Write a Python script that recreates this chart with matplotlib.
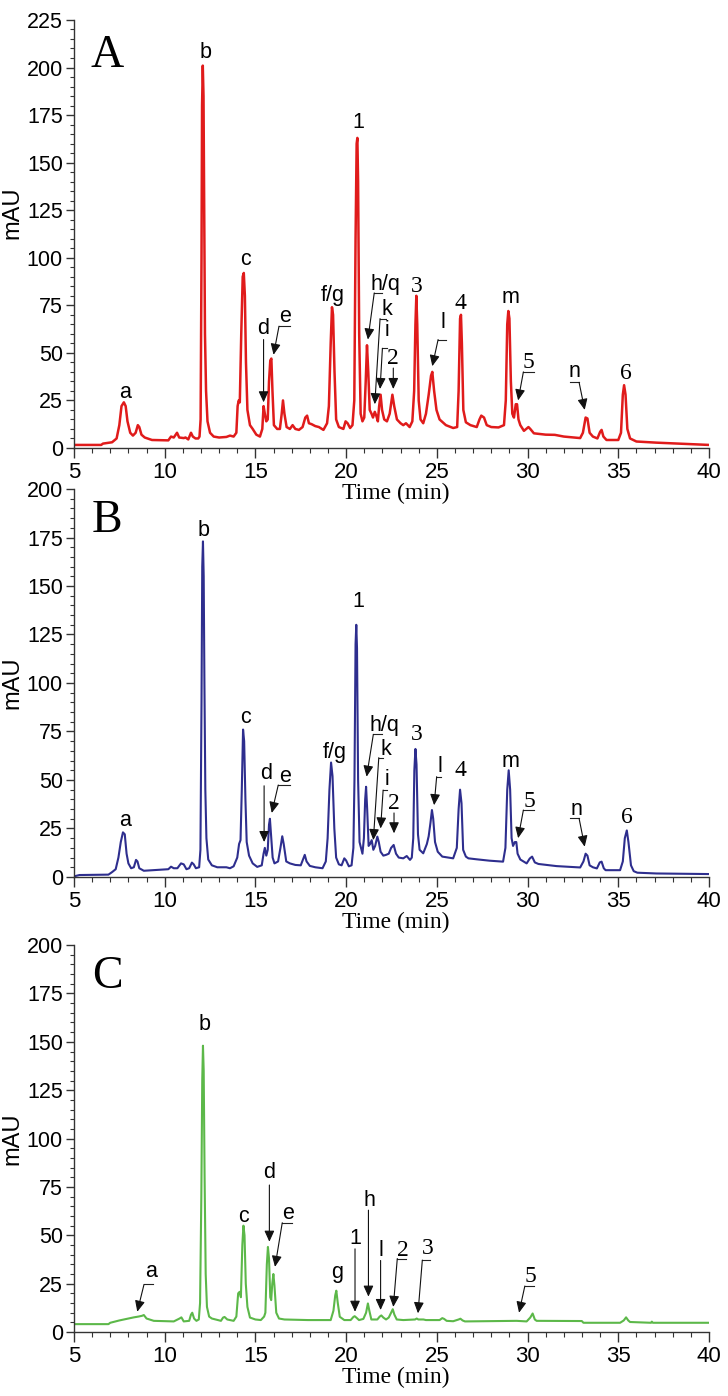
import numpy as np
import matplotlib
matplotlib.use("Agg")
import matplotlib.pyplot as plt
from matplotlib.ticker import MultipleLocator

# ---------------------------------------------
# HPLC chromatograms (A, B, C)
# each trace is a list of (time in min, absorbance in mAU)
# ---------------------------------------------
trace_a = [
    (5.0, 1.6), (6.5, 1.6), (6.6, 2.3), (7.1, 3.0), (7.35, 5), (7.5, 12), (7.62, 22),
    (7.75, 24), (7.85, 22), (7.95, 14), (8.1, 8), (8.25, 6.5), (8.4, 8), (8.52, 12),
    (8.6, 11), (8.72, 7), (8.9, 5.5), (9.3, 4.2), (10.2, 4.0), (10.35, 6.0), (10.5, 5.5),
    (10.68, 8), (10.8, 5.5), (11.05, 5.2), (11.15, 5.5), (11.3, 4.5), (11.45, 8),
    (11.55, 6), (11.7, 5), (11.85, 5), (11.92, 6), (11.98, 15), (12.03, 100), (12.06, 180),
    (12.1, 201), (12.14, 185), (12.18, 120), (12.22, 60), (12.28, 30), (12.36, 14),
    (12.5, 8), (12.7, 6), (13.0, 5.5), (13.4, 5.8), (13.6, 6.5), (13.8, 6), (13.95, 8),
    (14.02, 22), (14.08, 25), (14.14, 24), (14.22, 60), (14.3, 90), (14.36, 92),
    (14.42, 80), (14.48, 45), (14.56, 20), (14.7, 12), (14.85, 10), (15.05, 7),
    (15.25, 6), (15.38, 10), (15.45, 22), (15.52, 18), (15.6, 14), (15.68, 15),
    (15.75, 35), (15.82, 46), (15.88, 47), (15.94, 30), (16.02, 12), (16.2, 10),
    (16.35, 10), (16.45, 18), (16.52, 25), (16.6, 18), (16.72, 11), (16.9, 10),
    (17.05, 12), (17.2, 10), (17.4, 9.5), (17.6, 11), (17.75, 16), (17.85, 17),
    (17.95, 13), (18.1, 12.5), (18.3, 11.5), (18.5, 11), (18.75, 9.5), (18.95, 13),
    (19.05, 22), (19.15, 55), (19.22, 74), (19.28, 70), (19.36, 40), (19.45, 15),
    (19.6, 11), (19.85, 10), (19.97, 14), (20.08, 13), (20.22, 10.5), (20.35, 12),
    (20.45, 25), (20.52, 110), (20.58, 160), (20.62, 163), (20.66, 140), (20.72, 60),
    (20.8, 18), (20.9, 14), (21.0, 16), (21.08, 35), (21.15, 54), (21.22, 40),
    (21.3, 20), (21.4, 18), (21.48, 16), (21.58, 19), (21.66, 17), (21.75, 14),
    (21.82, 22), (21.9, 28), (21.98, 20), (22.1, 15), (22.25, 14), (22.4, 18),
    (22.55, 28), (22.65, 22), (22.8, 15), (23.0, 13), (23.15, 12), (23.3, 13),
    (23.5, 11), (23.65, 14), (23.75, 30), (23.82, 65), (23.87, 80), (23.92, 65),
    (24.0, 25), (24.1, 15), (24.25, 13), (24.4, 18), (24.55, 28), (24.68, 38),
    (24.75, 40), (24.85, 30), (24.98, 20), (25.15, 15), (25.5, 12), (25.9, 10.5),
    (26.12, 11), (26.2, 30), (26.28, 68), (26.33, 70), (26.38, 55), (26.46, 20),
    (26.6, 13.5), (26.85, 12), (27.2, 11), (27.35, 15), (27.45, 17), (27.6, 16),
    (27.75, 12), (28.0, 11), (28.4, 10.8), (28.7, 12), (28.8, 25), (28.88, 65),
    (28.94, 72), (29.0, 68), (29.08, 35), (29.16, 18), (29.25, 16), (29.35, 23),
    (29.42, 23), (29.5, 15), (29.6, 12), (29.8, 9), (30.05, 11), (30.15, 10),
    (30.35, 7.7), (31.0, 7), (31.5, 6.9), (32.0, 6), (32.9, 5.2), (33.05, 8),
    (33.2, 16), (33.3, 15.5), (33.42, 8), (33.6, 6), (33.85, 5), (34.0, 8.5),
    (34.08, 9.5), (34.18, 6), (34.35, 4.2), (35.0, 4.2), (35.15, 8), (35.25, 28),
    (35.32, 33), (35.4, 28), (35.5, 10), (35.65, 5), (36.0, 3.4), (37.1, 2.8),
    (38.6, 2.2), (40.0, 1.6),
]

trace_b = [
    (5.0, 0.3), (5.3, 1.0), (6.9, 1.2), (7.1, 2.5), (7.3, 4), (7.45, 10), (7.58, 18),
    (7.7, 23), (7.8, 22), (7.9, 12), (8.0, 7), (8.15, 4.5), (8.3, 5), (8.42, 8.8),
    (8.5, 8), (8.6, 4.5), (8.85, 3.2), (10.2, 4), (10.35, 5.3), (10.5, 4.5), (10.7, 4.5),
    (10.9, 7), (11.05, 6.5), (11.2, 4), (11.35, 4.5), (11.5, 7.4), (11.6, 6.5),
    (11.72, 4.5), (11.9, 5), (11.97, 14), (12.03, 90), (12.07, 160), (12.11, 173),
    (12.15, 155), (12.19, 100), (12.24, 45), (12.3, 20), (12.4, 9), (12.6, 6),
    (12.9, 5), (13.4, 5), (13.6, 4.5), (13.8, 5.5), (14.0, 10), (14.1, 17), (14.18, 19),
    (14.25, 45), (14.32, 76), (14.38, 70), (14.45, 40), (14.52, 18), (14.65, 11),
    (14.85, 7), (15.1, 5.2), (15.35, 6), (15.45, 12), (15.52, 15), (15.6, 11),
    (15.68, 14), (15.75, 27), (15.8, 30), (15.86, 22), (15.95, 10), (16.05, 7),
    (16.25, 8), (16.38, 15), (16.48, 21), (16.56, 17), (16.7, 8), (16.9, 7), (17.2, 6.2),
    (17.5, 6), (17.62, 9), (17.72, 11.4), (17.82, 8), (18.0, 5.7), (18.3, 5), (18.7, 4.5),
    (18.88, 8), (18.98, 20), (19.08, 45), (19.17, 59), (19.25, 52), (19.35, 25),
    (19.45, 10), (19.6, 6.5), (19.75, 6), (19.9, 9.6), (20.0, 8.5), (20.15, 5.5),
    (20.3, 6), (20.4, 15), (20.46, 50), (20.52, 120), (20.56, 130), (20.6, 118),
    (20.66, 50), (20.74, 18), (20.82, 15), (20.9, 12), (20.98, 20), (21.05, 40),
    (21.1, 46.5), (21.16, 35), (21.24, 16), (21.32, 17), (21.41, 19), (21.5, 14),
    (21.6, 16), (21.72, 20.8), (21.8, 18), (21.9, 13), (22.05, 11), (22.2, 11.4),
    (22.35, 12), (22.48, 15), (22.62, 16.5), (22.75, 12), (22.9, 10), (23.15, 9.6),
    (23.34, 10.8), (23.52, 8.8), (23.62, 10), (23.7, 20), (23.76, 55), (23.82, 66),
    (23.88, 58), (23.96, 22), (24.05, 14), (24.25, 12.2), (24.45, 17), (24.55, 21),
    (24.65, 28), (24.73, 34.5), (24.8, 30), (24.9, 18), (25.05, 13), (25.3, 10.5),
    (25.9, 9.6), (26.1, 15), (26.2, 35), (26.28, 45), (26.36, 38), (26.45, 14),
    (26.6, 10.5), (26.74, 9.6), (27.2, 9.1), (27.9, 8.4), (28.65, 7.9), (28.78, 15),
    (28.88, 45), (28.96, 55), (29.04, 45), (29.12, 20), (29.2, 16), (29.3, 18),
    (29.38, 18), (29.45, 12), (29.6, 9), (29.95, 7), (30.12, 9.5), (30.25, 10.5),
    (30.4, 7.5), (30.6, 6.7), (31.6, 5.6), (32.9, 4.9), (33.08, 8), (33.2, 12),
    (33.3, 11), (33.42, 6), (33.6, 5), (33.82, 4.4), (33.98, 7.5), (34.08, 7.9),
    (34.2, 4.5), (34.3, 3.5), (35.1, 3.5), (35.25, 8), (35.36, 20), (35.47, 24),
    (35.56, 18), (35.7, 6), (35.85, 3), (36.05, 2.2), (37.1, 1.8), (40.0, 1.5),
]

trace_c = [
    (5.0, 4.1), (6.9, 4.1), (7.0, 4.8), (7.5, 6), (8.0, 7), (8.3, 7.6), (8.55, 8),
    (8.75, 8.4), (8.85, 8.8), (9.0, 7), (9.4, 5.8), (10.5, 5.5), (10.82, 7), (10.92, 7.6),
    (11.05, 5.5), (11.35, 5.8), (11.45, 9), (11.52, 10), (11.62, 7), (11.75, 5.8),
    (11.88, 6.5), (11.95, 15), (12.02, 70), (12.07, 130), (12.11, 148), (12.15, 135),
    (12.2, 80), (12.26, 30), (12.33, 13), (12.45, 8), (12.6, 7), (13.1, 5.8), (13.22, 7.5),
    (13.3, 7.8), (13.45, 6.5), (13.8, 5.8), (13.95, 8), (14.05, 20), (14.13, 20.8),
    (14.2, 18), (14.28, 45), (14.34, 55), (14.4, 50), (14.47, 25), (14.56, 13),
    (14.7, 7.5), (15.0, 6.5), (15.3, 6.2), (15.48, 8), (15.55, 10), (15.63, 35),
    (15.69, 44), (15.75, 38), (15.82, 18), (15.87, 16.5), (15.93, 25), (15.99, 30),
    (16.05, 24), (16.15, 10), (16.3, 7), (16.6, 6.5), (17.9, 6.2), (19.15, 6.2),
    (19.3, 11), (19.4, 19), (19.46, 21.4), (19.54, 15), (19.65, 7.9), (19.9, 6.2),
    (20.25, 6.2), (20.4, 7.8), (20.47, 8.2), (20.56, 7.5), (20.71, 6.2), (20.95, 6.8),
    (21.1, 10), (21.2, 14.8), (21.28, 11), (21.39, 6.5), (21.72, 6.5), (21.85, 8),
    (21.94, 8.6), (22.05, 7.5), (22.2, 6.5), (22.35, 7.5), (22.48, 10), (22.57, 11.8),
    (22.66, 9), (22.79, 6.5), (23.15, 6.2), (23.8, 6.5), (23.89, 7), (23.98, 6.5),
    (24.26, 6.5), (24.4, 6.2), (25.15, 6.2), (25.3, 7.2), (25.4, 6.8), (25.54, 5.8),
    (25.9, 5.6), (26.2, 6.5), (26.3, 6.9), (26.42, 6), (26.55, 5.5), (29.4, 5.8),
    (29.95, 5.5), (30.15, 7.5), (30.28, 9.6), (30.4, 6.5), (30.5, 5.8), (32.99, 5.7),
    (33.08, 4.8), (35.1, 4.8), (35.3, 6), (35.43, 7.6), (35.55, 6), (35.65, 5.2),
    (36.8, 4.8), (36.85, 5.4), (36.9, 4.8), (40.0, 4.8),
]

# peak labels: (text, label position, arrow path from label to peak)
notes_a = [
    ("a", (7.8, 29), []), ("b", (12.25, 208), []), ("c", (14.43, 99), []),
    ("d", (15.45, 63), [(15.45, 57), (15.45, 24)]),
    ("e", (16.63, 69), [(16.88, 64), (16.3, 64), (16.0, 49)]),
    ("f/g", (19.25, 80), []), ("1", (20.66, 171), []),
    ("h/q", (22.15, 86), [(22.0, 81.5), (21.55, 81.5), (21.2, 57)]),
    ("k", (22.24, 73), [(22.18, 68), (21.87, 68), (21.58, 23)]),
    ("i", (22.24, 62), [(22.24, 52.4), (22.0, 52.4), (21.87, 31)]),
    ("2", (22.6, 47), [(22.6, 42), (22.6, 31)]),
    ("3", (23.87, 85), []),
    ("l", (25.34, 66), [(25.49, 57), (25.07, 57), (24.75, 43)]),
    ("4", (26.31, 76), []), ("m", (29.07, 79), []),
    ("5", (30.05, 45), [(30.36, 40), (29.77, 40), (29.48, 25)]),
    ("n", (32.6, 40), [(32.34, 34.5), (32.84, 34.5), (33.15, 20)]),
    ("6", (35.41, 39), []),
]

notes_b = [
    ("a", (7.81, 29), []), ("b", (12.17, 178.5), []), ("c", (14.43, 82.3), []),
    ("d", (15.57, 53.4), [(15.48, 47), (15.48, 18)]),
    ("e", (16.63, 52), [(16.9, 47.4), (16.26, 47.4), (15.9, 33)]),
    ("f/g", (19.39, 64), []), ("1", (20.67, 142), []),
    ("h/q", (22.09, 78), [(22.0, 73.5), (21.5, 73.5), (21.13, 51.7)]),
    ("k", (22.18, 65.5), [(22.05, 61.5), (21.8, 61.5), (21.5, 19)]),
    ("i", (22.24, 50.3), [(22.24, 44.8), (22.04, 44.8), (21.9, 25)]),
    ("2", (22.64, 38), [(22.64, 33), (22.64, 22.5)]),
    ("3", (23.87, 73.2), []),
    ("l", (25.18, 57), [(25.25, 51.7), (24.99, 51.7), (24.85, 37)]),
    ("4", (26.32, 55), []), ("m", (29.07, 59.5), []),
    ("5", (30.08, 38.8), [(30.36, 34.5), (29.77, 34.5), (29.48, 20)]),
    ("n", (32.71, 35), [(32.34, 30.2), (32.84, 30.2), (33.15, 15.6)]),
    ("6", (35.45, 30.8), []),
]

notes_c = [
    ("a", (9.23, 31.2), [(9.37, 24.6), (8.86, 24.6), (8.49, 10.5)]),
    ("b", (12.18, 159), []), ("c", (14.37, 59.6), []),
    ("d", (15.77, 82.5), [(15.77, 76), (15.77, 46.7)]),
    ("e", (16.82, 61.3), [(17.0, 56.5), (16.48, 56.5), (16.08, 33.7)]),
    ("g", (19.53, 30.8), []),
    ("1", (20.49, 48.4), [(20.49, 43), (20.49, 10.5)]),
    ("h", (21.26, 68.2), [(21.23, 63), (21.23, 18.3)]),
    ("l", (21.9, 42.4), [(21.9, 37), (21.9, 11.4)]),
    ("2", (23.15, 42.4), [(23.28, 38), (22.82, 38), (22.6, 13)]),
    ("3", (24.48, 43.2), [(24.62, 37.2), (24.2, 37.2), (23.96, 9.7)]),
    ("5", (30.14, 28.6), [(30.36, 23.8), (29.85, 23.8), (29.53, 10)]),
]

SANS = ["Liberation Sans", "DejaVu Sans"]
SERIF = ["Liberation Serif", "DejaVu Serif"]


# ---------------------------------------------
# puts one peak label (and its arrow) on the axes
# ---------------------------------------------
def draw_note(ax, text, xy, path):
    serif = text in "23456"
    ax.text(xy[0], xy[1], text, ha="center", va="center",
            family=SERIF if serif else SANS, size=17 if serif else 15.5)
    if not path:
        return
    if len(path) > 2:
        xs = [p[0] for p in path[:-1]]
        ys = [p[1] for p in path[:-1]]
        ax.plot(xs, ys, color="#222222", lw=0.8)
    ax.annotate("", xy=path[-1], xytext=path[-2],
                arrowprops=dict(arrowstyle="-|>,head_length=0.55,head_width=0.25",
                                color="#111111", lw=0.8, shrinkA=0, shrinkB=0,
                                mutation_scale=12))


# ---------------------------------------------
# draws one chromatogram panel
# ---------------------------------------------
def draw_panel(ax, trace, color, lw, letter, ymax, notes, ylab_y):
    # transparent background so the label of the panel above stays visible
    ax.patch.set_visible(False)

    t, v = np.array(trace).T
    ax.plot(t, v, color=color, lw=lw, solid_joinstyle="round")

    ax.set_xlim(5, 40)
    ax.set_ylim(0, ymax)
    ax.xaxis.set_major_locator(MultipleLocator(5))
    ax.xaxis.set_minor_locator(MultipleLocator(1))
    ax.yaxis.set_major_locator(MultipleLocator(25))
    ax.yaxis.set_minor_locator(MultipleLocator(5))

    for side in ["top", "right"]:
        ax.spines[side].set_visible(False)
    for side in ["left", "bottom"]:
        ax.spines[side].set_color("#333333")
        ax.spines[side].set_linewidth(1.0)

    ax.tick_params(axis="x", which="major", length=7, width=1, pad=3)
    ax.tick_params(axis="x", which="minor", length=3.5, width=0.8)
    ax.tick_params(axis="y", which="major", length=6, width=1, pad=2)
    ax.tick_params(axis="y", which="minor", length=3, width=0.8)
    ax.tick_params(which="both", colors="#333333", labelcolor="black")
    ax.tick_params(axis="x", labelsize=16)
    ax.tick_params(axis="y", labelsize=15.5)
    for lab in ax.get_xticklabels() + ax.get_yticklabels():
        lab.set_family(SANS)

    # axis titles
    ax.text(-0.097, ylab_y, "mAU", transform=ax.transAxes, rotation=90,
            ha="center", va="center", family=SANS, size=17)
    ax.annotate("Time (min)", xy=(0.507, 0), xycoords="axes fraction",
                xytext=(0, -33), textcoords="offset points",
                ha="center", va="center", family=SERIF, size=17)

    # panel letter
    ax.text(0.052, 0.917, letter, transform=ax.transAxes, ha="center", va="center",
            family=SERIF, size=33)

    for text, xy, path in notes:
        draw_note(ax, text, xy, path)


def main():
    fig = plt.figure(figsize=(7.28, 13.96), dpi=100)

    ax_a = fig.add_axes([0.1016, 0.6791, 0.8723, 0.3066])
    ax_b = fig.add_axes([0.1016, 0.3718, 0.8723, 0.2779])
    ax_c = fig.add_axes([0.1016, 0.0458, 0.8723, 0.2772])

    draw_panel(ax_a, trace_a, "#e01b1b", 1.8, "A", 225, notes_a, 0.549)
    draw_panel(ax_b, trace_b, "#2e2e8e", 1.5, "B", 200, notes_b, 0.5)
    draw_panel(ax_c, trace_c, "#5cb849", 1.5, "C", 200, notes_c, 0.5)

    fig.savefig("out.png", dpi=100)


main()
